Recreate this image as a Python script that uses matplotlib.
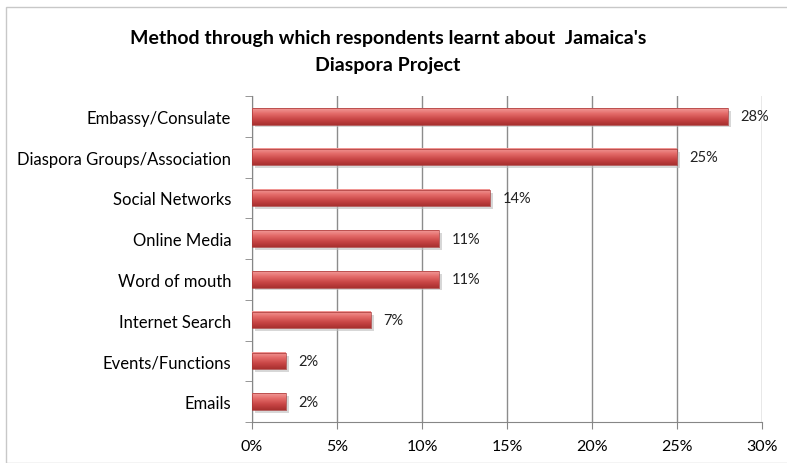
import numpy as np
import matplotlib.pyplot as plt
from matplotlib.patches import Rectangle
from matplotlib.colors import LinearSegmentedColormap

plt.rcParams['font.family'] = ['Lato', 'DejaVu Sans']

methods = ["Embassy/Consulate", "Diaspora Groups/Association", "Social Networks",
           "Online Media", "Word of mouth", "Internet Search", "Events/Functions", "Emails"]
shares = [28, 25, 14, 11, 11, 7, 2, 2]
ticks = [0, 5, 10, 15, 20, 25, 30]

fig = plt.figure(figsize=(7.87, 4.64), dpi=100)
# chart frame
fig.patches.append(Rectangle((6 / 787, 0), 1, 1 - 8 / 464, transform=fig.transFigure,
                             fill=False, edgecolor='#c8c8c8', lw=1))

ax = fig.add_axes([252 / 787, 41 / 464, 510 / 787, 326 / 464])
ypos = np.arange(len(methods))[::-1]
bar_h = 0.4

# shaded red bars: light top edge, darker bottom
shade = LinearSegmentedColormap.from_list('shade', ['#a8302f', '#c84545', '#e36a68', '#f29a98'])
grad = np.linspace(0, 1, 64).reshape(-1, 1)
for y, v in zip(ypos, shares):
    ax.add_patch(Rectangle((0.15, y - bar_h / 2 - 0.07), v, bar_h, facecolor='#bdbdbd',
                           edgecolor='none', alpha=0.6, zorder=2))
    ax.imshow(grad, cmap=shade, aspect='auto', origin='lower',
              extent=(0, v, y - bar_h / 2, y + bar_h / 2), zorder=3)
    ax.add_patch(Rectangle((0, y - bar_h / 2), v, bar_h, fill=False,
                           edgecolor='#a83535', lw=0.5, zorder=4))
    ax.text(v + 0.75, y, f"{v}%", va='center', ha='left', fontsize=10.5, color='#222222')

ax.set_xlim(0, 30)
ax.set_ylim(-0.5, len(methods) - 0.5)
ax.set_xticks(ticks)
ax.set_xticklabels([f"{t}%" for t in ticks], fontsize=11.5)
ax.set_yticks(ypos)
ax.set_yticklabels(methods, fontsize=12)
ax.set_yticks(np.arange(-0.5, len(methods)), minor=True)
ax.tick_params(axis='y', which='major', length=0, pad=15)
ax.tick_params(axis='y', which='minor', length=5, color='#868686')
ax.tick_params(axis='x', length=5, color='#868686', pad=7)
ax.xaxis.grid(True, color='#8c8c8c', lw=1)
ax.set_axisbelow(True)
for side in ['top', 'right']:
    ax.spines[side].set_visible(False)
for side in ['left', 'bottom']:
    ax.spines[side].set_color('#868686')

fig.text(388 / 787, 1 - 52 / 464, "Method through which respondents learnt about  Jamaica's\nDiaspora Project",
         ha='center', va='center', fontsize=14, fontweight='bold', linespacing=1.7)

fig.savefig("out.png", dpi=100)
